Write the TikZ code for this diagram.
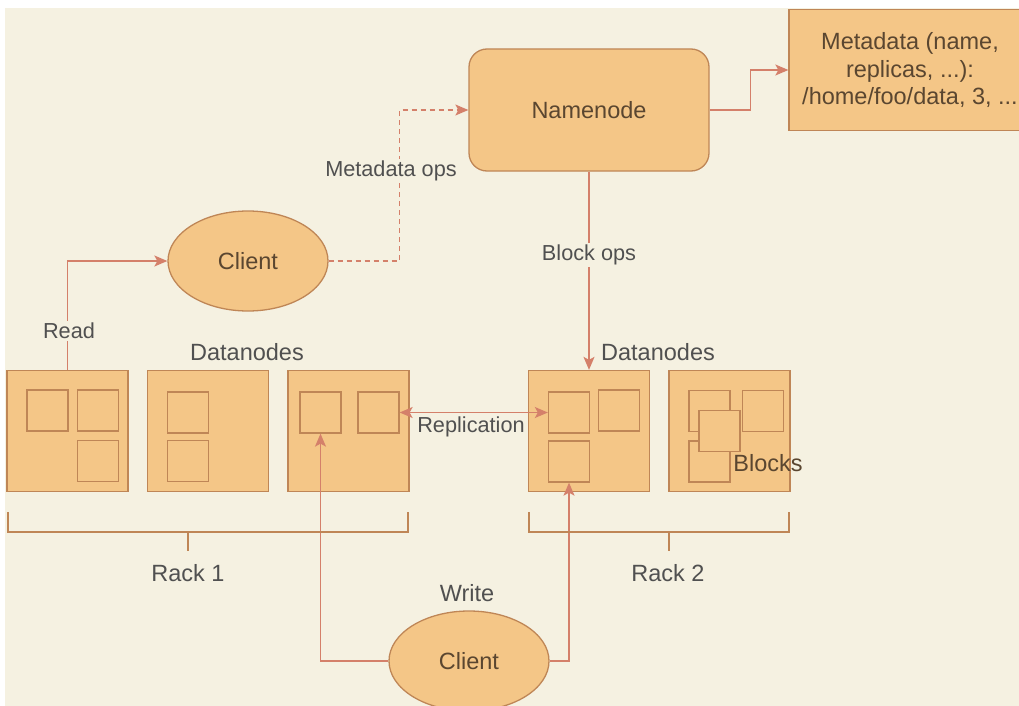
\documentclass[tikz,border=0pt]{standalone}
\usepackage{fontspec}
\setmainfont{Liberation Sans}
\usetikzlibrary{shapes.geometric,arrows.meta}
\definecolor{bgc}{HTML}{F5F1E1}
\definecolor{fillc}{HTML}{F4C687}
\definecolor{edgec}{HTML}{BF8656}
\definecolor{linec}{HTML}{D4806A}
\definecolor{txtc}{HTML}{505050}
\definecolor{ctxt}{HTML}{5A4630}
\tikzset{
  x=1pt, y=-1pt,
  every node/.style={font=\fontsize{23.5}{28}\selectfont, text=txtc},
  box/.style={draw=edgec, fill=fillc, line width=1.3pt, inner sep=0pt, text=ctxt},
  blk/.style={draw=edgec, fill=fillc, line width=1.3pt, inner sep=0pt, minimum width=41pt, minimum height=41pt},
  dnode/.style={box, minimum width=121pt, minimum height=121pt},
  cli/.style={box, ellipse, minimum width=160pt, minimum height=100pt},
  conn/.style={draw=linec, line width=1.4pt, -{Stealth[length=13pt,width=11pt,inset=3pt]}},
  bconn/.style={draw=linec, line width=1.4pt, {Stealth[length=13pt,width=11pt,inset=3pt]}-{Stealth[length=13pt,width=11pt,inset=3pt]}},
  brk/.style={draw=edgec, line width=1.2pt},
  elbl/.style={font=\fontsize{21.7}{26}\selectfont},
  lbl/.style={elbl, fill=bgc, inner sep=2pt},
}
\begin{document}
\begin{tikzpicture}
\useasboundingbox (0,0) rectangle (1019,706);
\clip (0,0) rectangle (1019,706);
\fill[white] (0,0) rectangle (1019,706);
\fill[bgc] (5,8) rectangle (1019,706);

% Namenode and metadata
\node[box, rounded corners=18pt, minimum width=240pt, minimum height=122pt] (nn) at (589,110) {Namenode};
\node[box, minimum width=242pt, minimum height=121pt, align=center, font=\fontsize{23.5}{27.5}\selectfont] (meta) at (910,70) {Metadata (name,\\ replicas, ...):\\ /home/foo/data, 3, ...};

% Clients
\node[cli] (c1) at (248,261) {Client};
\node[cli] (c2) at (469,661) {Client};

% Datanodes
\node[dnode] (d1) at (67.5,431) {};
\node[dnode] (d2) at (208,431) {};
\node[dnode] (d3) at (348.5,431) {};
\node[dnode] (d4) at (589,431) {};
\node[dnode] (d5) at (729.5,431) {};

% blocks
\node[blk] (b11) at (47.5,410.5) {};
\node[blk] (b12) at (98,410.5) {};
\node[blk] (b13) at (98,461) {};
\node[blk] (b21) at (188,412.5) {};
\node[blk] (b22) at (188,461) {};
\node[blk] (b31) at (320.5,412.5) {};
\node[blk] (b32) at (378.5,412.5) {};
\node[blk] (b41) at (569,412.5) {};
\node[blk] (b42) at (619,410.5) {};
\node[blk] (b43) at (569,461.5) {};
\node[blk] (b51) at (709.5,411) {};
\node[blk] (b52) at (763,411) {};
\node[blk] (b53) at (709.5,461.5) {};
\node[blk] (b54) at (719.5,431) {};
\node[text=ctxt] (blocks) at (768,463) {Blocks};

\node (dl1) at (247,352) {Datanodes};
\node (dl2) at (658,352) {Datanodes};

% Connectors
\draw[conn] (d1.north) |- (c1.west);
\node[lbl] (readl) at (69,331) {Read};

\draw[conn, dashed, dash pattern=on 5pt off 4pt, line width=1.2pt] (c1.east) -- ++(71,0) |- (nn.west);
\node[lbl] (mops) at (391,171) {Metadata ops};

\draw[conn] (nn.east) -- ++(41,0) |- (meta.west);

\draw[conn] (nn.south) -- (d4.north);
\node[lbl] (bops) at (589,255) {Block ops};

\draw[bconn] (b32.east) -- (b41.west);
\node[elbl] (repl) at (471,427) {Replication};

\draw[conn] (c2.west) -| (b31.south);
\draw[conn] (c2.east) -| (b43.south);
\node (wl) at (467,593) {Write};

% Rack brackets
\draw[brk] (8,512) -- (8,532) -- (408,532) -- (408,512);
\draw[brk] (188,532) -- (188,551);
\node (r1) at (188,573) {Rack 1};
\draw[brk] (529,512) -- (529,532) -- (789,532) -- (789,512);
\draw[brk] (669,532) -- (669,551);
\node (r2) at (668,573) {Rack 2};
\end{tikzpicture}
\end{document}
